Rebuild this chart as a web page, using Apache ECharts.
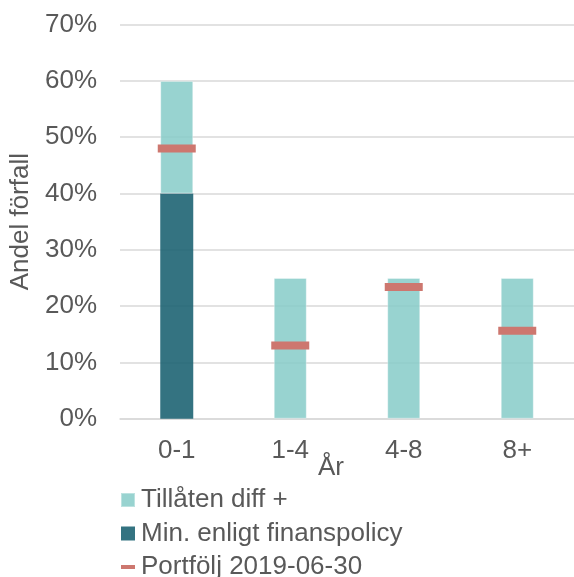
<!DOCTYPE html>
<html>
<head>
<meta charset="utf-8">
<script src="https://cdn.jsdelivr.net/npm/echarts@6/dist/echarts.min.js"></script>
<style>
html,body{margin:0;padding:0;background:#fff;}
#chart{width:574px;height:577px;}
</style>
</head>
<body>
<div id="chart"></div>
<script>
var categories = ['0-1', '1-4', '4-8', '8+'];
var minPolicy = [40, 0, 0, 0];
var tillatenDiff = [20, 25, 25, 25];
var portfolj = [48, 13, 23.4, 15.6];
var yTicks = [0, 70, 10];

var FONT = '"Liberation Sans", Arial, sans-serif';
var TXT = '#595959';

var chart = echarts.init(document.getElementById('chart'), null, {renderer: 'canvas'});
chart.setOption({
  animation: false,
  backgroundColor: '#ffffff',
  textStyle: {fontFamily: FONT},
  grid: {left: 120, right: -7, top: 24.6, bottom: 158.3, containLabel: false},
  legend: {
    orient: 'vertical',
    left: 120,
    top: 487,
    height: 140,
    padding: 0,
    itemWidth: 14,
    itemHeight: 14,
    itemGap: 7.5,
    symbolKeepAspect: true,
    textStyle: {fontSize: 26, color: TXT, fontFamily: FONT, padding: [0, 0, 0, 1]},
    data: [
      {name: 'Tillåten diff +', icon: 'rect'},
      {name: 'Min. enligt finanspolicy', icon: 'rect'},
      {name: 'Portfölj 2019-06-30', icon: 'path://M0,0 L14,0 L14,4 L0,4 Z'}
    ]
  },
  xAxis: {
    type: 'category',
    data: categories,
    name: 'År',
    nameLocation: 'middle',
    nameGap: 36,
    nameMoveOverlap: false,
    nameTextStyle: {fontSize: 26, color: TXT, fontFamily: FONT, padding: [0, 32, 0, 0]},
    axisLine: {show: true, lineStyle: {color: '#d9d9d9', width: 1.5}},
    axisTick: {show: false},
    axisLabel: {fontSize: 26, color: TXT, fontFamily: FONT, margin: 19}
  },
  yAxis: {
    type: 'value',
    min: yTicks[0],
    max: yTicks[1],
    interval: yTicks[2],
    name: 'Andel förfall',
    nameLocation: 'middle',
    nameGap: 86,
    nameRotate: 90,
    nameMoveOverlap: false,
    nameTextStyle: {fontSize: 26, color: TXT, fontFamily: FONT},
    axisLine: {show: false},
    axisTick: {show: false},
    splitLine: {lineStyle: {color: '#d9d9d9', width: 1.5}},
    axisLabel: {fontSize: 26, color: TXT, fontFamily: FONT, margin: 23, formatter: '{value}%'}
  },
  series: [
    {
      name: 'Min. enligt finanspolicy',
      type: 'bar',
      stack: 'total',
      barWidth: 33,
      data: minPolicy,
      itemStyle: {color: 'rgba(30,100,115,0.9)'}
    },
    {
      name: 'Tillåten diff +',
      type: 'bar',
      stack: 'total',
      barWidth: 33,
      data: tillatenDiff,
      itemStyle: {color: 'rgba(134,203,200,0.85)', borderColor: 'rgba(255,255,255,0.35)', borderWidth: 1}
    },
    {
      name: 'Portfölj 2019-06-30',
      type: 'scatter',
      symbol: 'rect',
      symbolSize: [38, 8],
      data: portfolj,
      z: 5,
      itemStyle: {color: '#cd776f', opacity: 1}
    }
  ]
});
</script>
</body>
</html>
